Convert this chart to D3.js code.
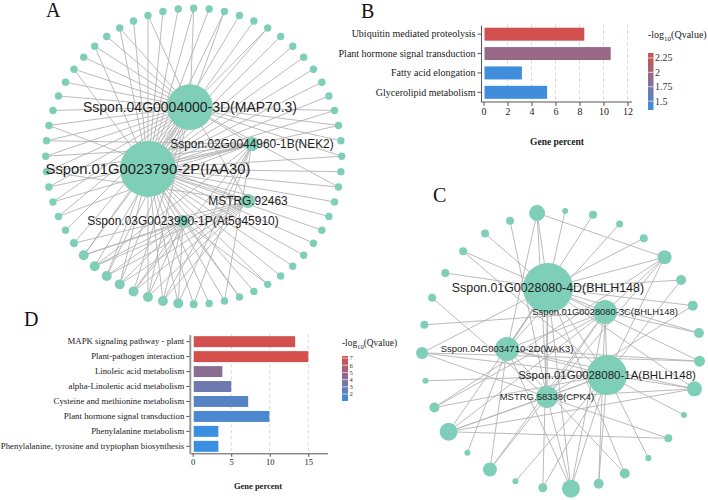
<!DOCTYPE html>
<html><head><meta charset="utf-8">
<script src="https://cdn.jsdelivr.net/npm/d3@7"></script>
<style>
html,body{margin:0;padding:0;background:#fff;}
svg{display:block;}
</style></head><body><svg id="fig" width="708" height="500"></svg>
<script>
// ================= DATA =================
// Panel B
const categoriesB = ["Ubiquitin mediated proteolysis","Plant hormone signal transduction","Fatty acid elongation","Glycerolipid metabolism"];
const genePercentB = [8.4, 10.6, 3.2, 5.3];
const qvalueB = [2.30, 1.94, 1.38, 1.38];
const xTicksB = [0, 2, 4, 6, 8, 10, 12];
const legendTicksB = [1.5, 1.75, 2, 2.25];
const legendDomainB = [1.345, 2.336];

// Panel D
const categoriesD = ["MAPK signaling pathway - plant","Plant-pathogen interaction","Linoleic acid metabolism","alpha-Linolenic acid metabolism","Cysteine and methionine metabolism","Plant hormone signal transduction","Phenylalanine metabolism","Phenylalanine, tyrosine and tryptophan biosynthesis"];
const genePercentD = [13.3, 15.0, 3.85, 5.0, 7.2, 9.95, 3.33, 3.33];
const qvalueD = [7.1, 7.25, 4.3, 3.1, 2.2, 1.7, 1.05, 1.05];
const xTicksD = [0, 5, 10, 15];
const legendTicksD = [2, 3, 4, 5, 6, 7];
const legendDomainD = [1.03, 7.28];

// Panel A network
const hubNamesA = ["Sspon.04G0004000-3D(MAP70.3)","Sspon.01G0023790-2P(IAA30)","Sspon.02G0044960-1B(NEK2)","MSTRG.92463","Sspon.03G0023990-1P(At5g45910)"];
const hubPosA = [[-0.025,-0.332],[-0.309,0.086],[0.394,-0.082],[0.367,0.303],[-0.072,0.438]];
const hubWeightA = [40, 60, 3.8, 3.8, 2.8];
const hubEdgesA = [[0,1],[0,2],[1,2],[1,3],[1,4],[0,3]];
const outerLinksA = ["01","1","01","1","1","01","1","1","1","1",
                     "1","1","01","01","0","01","1","01","1","1",
                     "1","1","1","1","1","14","1","14","12","1",
                     "12","124","1234","0134","0234","0134","0134","0234","0134","03",
                     "0","02","02","02","023","02","02","03","0","0",
                     "0","01","0","01","0","01","1","01","1","1"];
const outerWeightA = [1.05,1.05,1.05,1.05,1.05,1.05,1.05,1.05,1.05,1.05,
                      1.05,1.05,1.05,1.05,1.05,1.05,1.05,1.05,1.05,1.05,
                      1.05,1.05,1.05,1.05,1.05,1.05,1.05,1.05,1.05,1.05,
                      1.2,1.9,1.9,1.9,1.9,1.9,1.9,1.9,1.9,1.3,
                      1.05,1.05,1.05,1.05,1.05,1.05,1.05,1.05,1.05,1.05,
                      1.05,1.05,1.05,1.05,1.05,1.05,1.05,1.05,1.05,1.05];

// Panel C network
const hubNamesC = ["Sspon.01G0028080-4D(BHLH148)","Sspon.01G0028080-3C(BHLH148)","Sspon.04G0034710-2D(WAK3)","Sspon.01G0028080-1A(BHLH148)","MSTRG.58338(CPK4)"];
const hubPosC = [[-0.094,-0.446],[0.317,-0.273],[-0.388,-0.007],[0.331,0.180],[-0.101,0.338]];
const hubWeightC = [47.8, 11.0, 11.0, 30.6, 9.3];
const hubEdgesC = [[0,1],[0,2],[0,3],[0,4],[1,2],[1,4],[2,3],[3,4],[1,3]];
const outerLinksC = ["024","0","2","2","0","0134","03","04","01","02",
                     "0234","3","4","3","02","13","01234","03","3","124",
                     "2","0134","13","3","034","1","4","0","03","0","4"];
const outerEdgesC = [[0,5],[10,21],[12,21],[24,9],[22,5]];
const outerWeightC = [4.9,0.69,1.22,0.94,1.22,3.75,1.91,1.91,1.91,2.31,
                      4.3,0.69,1.22,0.69,1.91,1.91,6.2,1.55,0.69,3.75,
                      0.69,6.2,1.91,0.69,2.75,1.22,1.22,1.22,1.22,1.22,1.22];

// ================= DRAWING =================
const svg = d3.select("#fig");
const SERIF = "'Liberation Serif','Times New Roman',serif";
const SANS = "'Liberation Sans',Arial,sans-serif";
const BLUE = "#3a8fe0", RED = "#d64f4b";
const NODE = "#7fcfb8", EDGE = "#b3b3b3";

function colorScale(domain){
  return d3.scaleLinear().domain(domain).range([BLUE, RED]).interpolate(d3.interpolateRgb).clamp(true);
}

function drawBars(o){
  const g = svg.append("g");
  const x = d3.scaleLinear().domain([0, o.xMax]).range([o.x0, o.x1]);
  const y = d3.scaleBand().domain(o.cats).range([o.y0, o.y1]).paddingInner(o.padIn).paddingOuter(o.padOut);
  const color = colorScale(o.legendDomain);
  g.selectAll("line.grid").data(o.ticks.filter(t => t > 0)).join("line")
    .attr("x1", d => x(d)).attr("x2", d => x(d)).attr("y1", o.y0).attr("y2", o.y1)
    .attr("stroke", "#d4d4d4").attr("stroke-width", 1).attr("stroke-dasharray", "3,3");
  g.selectAll("rect.bar").data(o.cats).join("rect")
    .attr("x", x(0) + 1).attr("y", d => y(d))
    .attr("width", (d, i) => x(o.vals[i]) - x(0) - 1)
    .attr("height", y.bandwidth())
    .attr("fill", (d, i) => color(o.qs[i]));
  // x axis
  const xa = g.append("g").attr("transform", `translate(0,${o.y1})`)
    .call(d3.axisBottom(x).tickValues(o.ticks).tickSize(o.tickLen).tickPadding(2).tickFormat(d3.format("d")));
  xa.select(".domain").remove();
  xa.selectAll(".tick line").attr("stroke", "#555");
  xa.selectAll(".tick text").attr("font-family", SERIF).attr("font-size", o.tickFont).attr("fill", "#222");
  g.append("line").attr("x1", o.axisX).attr("x2", o.x1).attr("y1", o.y1).attr("y2", o.y1)
    .attr("stroke", "#555").attr("stroke-width", 1);
  // y axis
  const ya = g.append("g").attr("transform", `translate(${o.axisX},0)`)
    .call(d3.axisLeft(y).tickSize(4).tickPadding(2));
  ya.select(".domain").remove();
  ya.selectAll(".tick line").attr("stroke", "#555");
  ya.selectAll(".tick text").attr("font-family", SERIF).attr("font-size", o.labelFont).attr("fill", "#1a1a1a");
  g.append("line").attr("x1", o.axisX).attr("x2", o.axisX).attr("y1", o.y0 + 1).attr("y2", o.y1)
    .attr("stroke", o.yAxisColor).attr("stroke-width", o.yAxisWidth);
  // axis title
  g.append("text").attr("x", o.titleX).attr("y", o.titleY).attr("text-anchor", "middle")
    .attr("font-family", SERIF).attr("font-weight", "bold").attr("font-size", o.titleFont)
    .attr("fill", "#222").text("Gene percent");
  // legend
  const lg = svg.append("g");
  const t = lg.append("text").attr("x", o.legX).attr("y", o.legTitleY)
    .attr("font-family", SERIF).attr("font-size", o.legTitleFont).attr("fill", "#222");
  t.append("tspan").text("-log");
  t.append("tspan").attr("font-size", o.legTitleFont * 0.7).attr("dy", o.legTitleFont * 0.3).text("10");
  t.append("tspan").attr("dy", -o.legTitleFont * 0.3).text("(Qvalue)");
  const ly = d3.scaleLinear().domain(o.legendDomain).range([o.legY1, o.legY0]);
  const gid = "grad" + o.id;
  const grad = svg.append("defs").append("linearGradient").attr("id", gid)
    .attr("x1", 0).attr("y1", 1).attr("x2", 0).attr("y2", 0);
  d3.range(0, 1.0001, 0.1).forEach(s => {
    grad.append("stop").attr("offset", s)
      .attr("stop-color", color(o.legendDomain[0] + s * (o.legendDomain[1] - o.legendDomain[0])));
  });
  lg.append("rect").attr("x", o.legX).attr("y", o.legY0).attr("width", o.legW)
    .attr("height", o.legY1 - o.legY0).attr("fill", `url(#${gid})`);
  lg.selectAll("line.lt").data(o.legTicks).join("line")
    .attr("x1", o.legX).attr("x2", o.legX + o.legW).attr("y1", d => ly(d)).attr("y2", d => ly(d))
    .attr("stroke", "#fff").attr("stroke-width", 0.8).attr("opacity", 0.8);
  lg.selectAll("text.lt").data(o.legTicks).join("text")
    .attr("x", o.legX + o.legW + 1.5).attr("y", d => ly(d)).attr("dy", "0.35em")
    .attr("font-family", SERIF).attr("font-size", o.legFont).attr("fill", "#333")
    .text(d => d);
}

drawBars({id: "B", cats: categoriesB, vals: genePercentB, qs: qvalueB, ticks: xTicksB,
  legendDomain: legendDomainB, legTicks: legendTicksB,
  xMax: 12.375, x0: 483.5, x1: 632, y0: 24.5, y1: 102, padIn: 0.33, padOut: 0.165,
  axisX: 481.5, tickLen: 4, tickFont: 10, labelFont: 10, yAxisColor: "#555", yAxisWidth: 1,
  titleX: 557, titleY: 145, titleFont: 9.5,
  legX: 648, legTitleY: 38, legTitleFont: 10, legY0: 53, legY1: 110, legW: 5.5, legFont: 10});

drawBars({id: "D", cats: categoriesD, vals: genePercentD, qs: qvalueD, ticks: xTicksD,
  legendDomain: legendDomainD, legTicks: legendTicksD,
  xMax: 17.56, x0: 192.7, x1: 328, y0: 334.2, y1: 453.8, padIn: 0.267, padOut: 0.133,
  axisX: 190.3, tickLen: 3, tickFont: 8.5, labelFont: 8.8, yAxisColor: "#999", yAxisWidth: 2,
  titleX: 258, titleY: 489, titleFont: 8.5,
  legX: 342, legTitleY: 346, legTitleFont: 9.4, legY0: 356, legY1: 401, legW: 6, legFont: 6.6});

// ---------- networks ----------
const rScale = d3.scaleSqrt().domain([0, 60]).range([0, 28]);

function drawNetwork(o){
  const g = svg.append("g");
  const sx = d3.scaleLinear().domain([-1, 1]).range([o.cx - o.R, o.cx + o.R]);
  const sy = d3.scaleLinear().domain([-1, 1]).range([o.cy - o.R, o.cy + o.R]);
  const n = o.outerLinks.length;
  const ang = d3.scaleLinear().domain([0, n]).range([o.start, o.start + 2 * Math.PI]);
  const outer = o.outerLinks.map((l, i) => ({x: sx(Math.cos(ang(i))), y: sy(Math.sin(ang(i))), r: rScale(o.outerWeight[i])}));
  const hubs = o.hubPos.map((p, i) => ({x: sx(p[0]), y: sy(p[1]), r: rScale(o.hubWeight[i]), name: o.hubNames[i], fs: o.hubFont[i]}));
  const edges = [];
  o.outerLinks.forEach((s, i) => s.split("").forEach(c => edges.push([hubs[+c], outer[i]])));
  o.hubEdges.forEach(e => edges.push([hubs[e[0]], hubs[e[1]]]));
  (o.outerEdges || []).forEach(e => edges.push([outer[e[0]], outer[e[1]]]));
  g.selectAll("line").data(edges).join("line")
    .attr("x1", d => d[0].x).attr("y1", d => d[0].y).attr("x2", d => d[1].x).attr("y2", d => d[1].y)
    .attr("stroke", EDGE).attr("stroke-width", 0.9);
  g.selectAll("circle.o").data(outer).join("circle")
    .attr("cx", d => d.x).attr("cy", d => d.y).attr("r", d => d.r).attr("fill", NODE);
  g.selectAll("circle.h").data(hubs).join("circle")
    .attr("cx", d => d.x).attr("cy", d => d.y).attr("r", d => d.r).attr("fill", NODE);
  g.selectAll("text").data(hubs).join("text")
    .attr("x", d => d.x).attr("y", d => d.y).attr("dy", "0.36em").attr("text-anchor", "middle")
    .attr("font-family", SANS).attr("font-size", d => d.fs).attr("fill", "#1e1e1e")
    .text(d => d.name);
}

drawNetwork({cx: 193.7, cy: 156.2, R: 148, start: -Math.PI / 2,
  outerLinks: outerLinksA, outerWeight: outerWeightA,
  hubNames: hubNamesA, hubPos: hubPosA, hubWeight: hubWeightA, hubEdges: hubEdgesA,
  hubFont: [14, 14.8, 11.9, 11.9, 12]});

drawNetwork({cx: 561, cy: 350, R: 139, start: -99.9 * Math.PI / 180,
  outerLinks: outerLinksC, outerWeight: outerWeightC, outerEdges: outerEdgesC,
  hubNames: hubNamesC, hubPos: hubPosC, hubWeight: hubWeightC, hubEdges: hubEdgesC,
  hubFont: [12.4, 9.4, 9.5, 11.5, 9.5]});

// panel letters
const letters = [["A", 46, 17], ["B", 361, 18], ["C", 433, 202], ["D", 24, 326]];
svg.selectAll("text.letter").data(letters).join("text")
  .attr("x", d => d[1]).attr("y", d => d[2])
  .attr("font-family", SERIF).attr("font-size", 20).attr("fill", "#111").text(d => d[0]);
</script></body></html>
